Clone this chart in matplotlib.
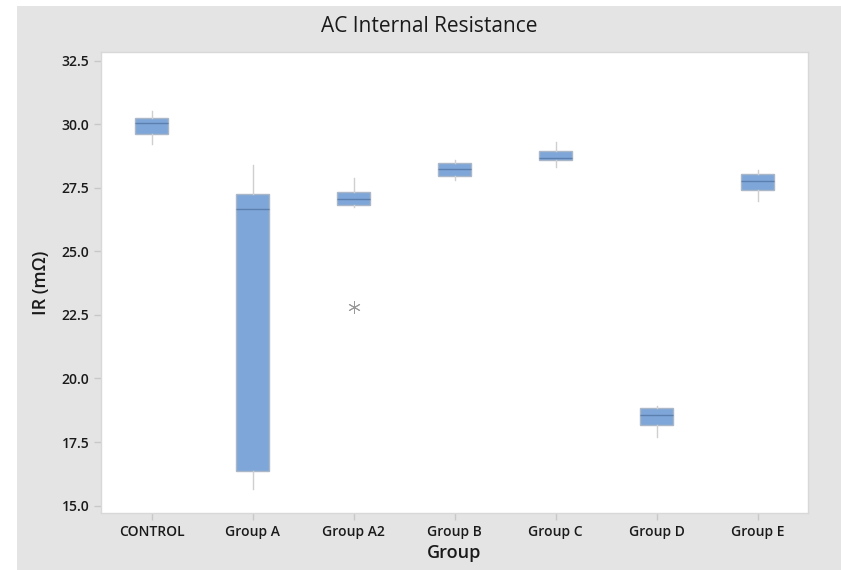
import numpy as np
import matplotlib
matplotlib.use("Agg")
from matplotlib import pyplot as plt
from matplotlib.patches import Rectangle

# Box plot statistics
groups = ["CONTROL", "Group A", "Group A2", "Group B", "Group C", "Group D", "Group E"]
whislo = [29.22, 15.66, 26.74, 27.79, 28.31, 17.71, 26.98]
q1     = [29.63, 16.37, 26.81, 27.97, 28.60, 18.17, 27.42]
med    = [30.03, 26.65, 27.06, 28.24, 28.67, 18.56, 27.76]
q3     = [30.24, 27.27, 27.34, 28.46, 28.93, 18.85, 28.03]
whishi = [30.53, 28.39, 27.89, 28.58, 29.29, 18.91, 28.18]
outliers = [[], [], [22.83], [], [], [], []]

yticks = [15.0, 17.5, 20.0, 22.5, 25.0, 27.5, 30.0, 32.5]

plt.rcParams['font.family'] = ['Open Sans', 'DejaVu Sans']

fig = plt.figure(figsize=(8.41, 5.70), dpi=100, facecolor="white")
fig.patches.append(Rectangle((17 / 841, 0), 1, 1 - 6 / 570, transform=fig.transFigure,
                             facecolor="#e4e4e4", edgecolor="none", zorder=-10))

ax = fig.add_axes([101 / 841, 57 / 570, (808 - 101) / 841, (513 - 52) / 570])
ax.set_facecolor("white")

stats = []
for i, g in enumerate(groups):
    stats.append(dict(label=g, whislo=whislo[i], q1=q1[i], med=med[i],
                      q3=q3[i], whishi=whishi[i], fliers=outliers[i]))

ax.bxp(stats, positions=np.arange(len(groups)), widths=0.33, patch_artist=True,
       showcaps=False,
       boxprops=dict(facecolor="#7ea6d8", edgecolor="#a9b7c8", linewidth=1),
       medianprops=dict(color="#5b7fae", linewidth=1),
       whiskerprops=dict(color="#cfcfcf", linewidth=1),
       flierprops=dict(marker=(6, 2, 0), markersize=9, markeredgecolor="#9a9a9a",
                       markeredgewidth=0.7, linestyle="none"))

ax.set_xlim(-0.5, len(groups) - 0.5)
ax.set_ylim(14.71, 32.84)
ax.set_yticks(yticks)
ax.set_yticklabels([f"{v:.1f}" for v in yticks])
ax.set_xticks(np.arange(len(groups)))
ax.set_xticklabels(groups)

for s in ax.spines.values():
    s.set_color("#d8d8d8")
    s.set_linewidth(1)
ax.tick_params(axis="both", colors="#c8c8c8", length=5, width=1,
               labelcolor="#1a1a1a", labelsize=10)
for lab in ax.get_xticklabels() + ax.get_yticklabels():
    lab.set_fontweight("semibold")

ax.set_xlabel("Group", fontsize=13, fontweight="semibold", color="#1a1a1a", labelpad=4)
ax.set_ylabel("IR (mΩ)", fontsize=13, fontweight="semibold", color="#1a1a1a", labelpad=8)
fig.text(0.51, 1 - 27 / 570, "AC Internal Resistance", ha="center", va="center",
         fontsize=15, fontweight="medium", color="#1a1a1a")

fig.savefig("out.png", dpi=100, facecolor=fig.get_facecolor())
